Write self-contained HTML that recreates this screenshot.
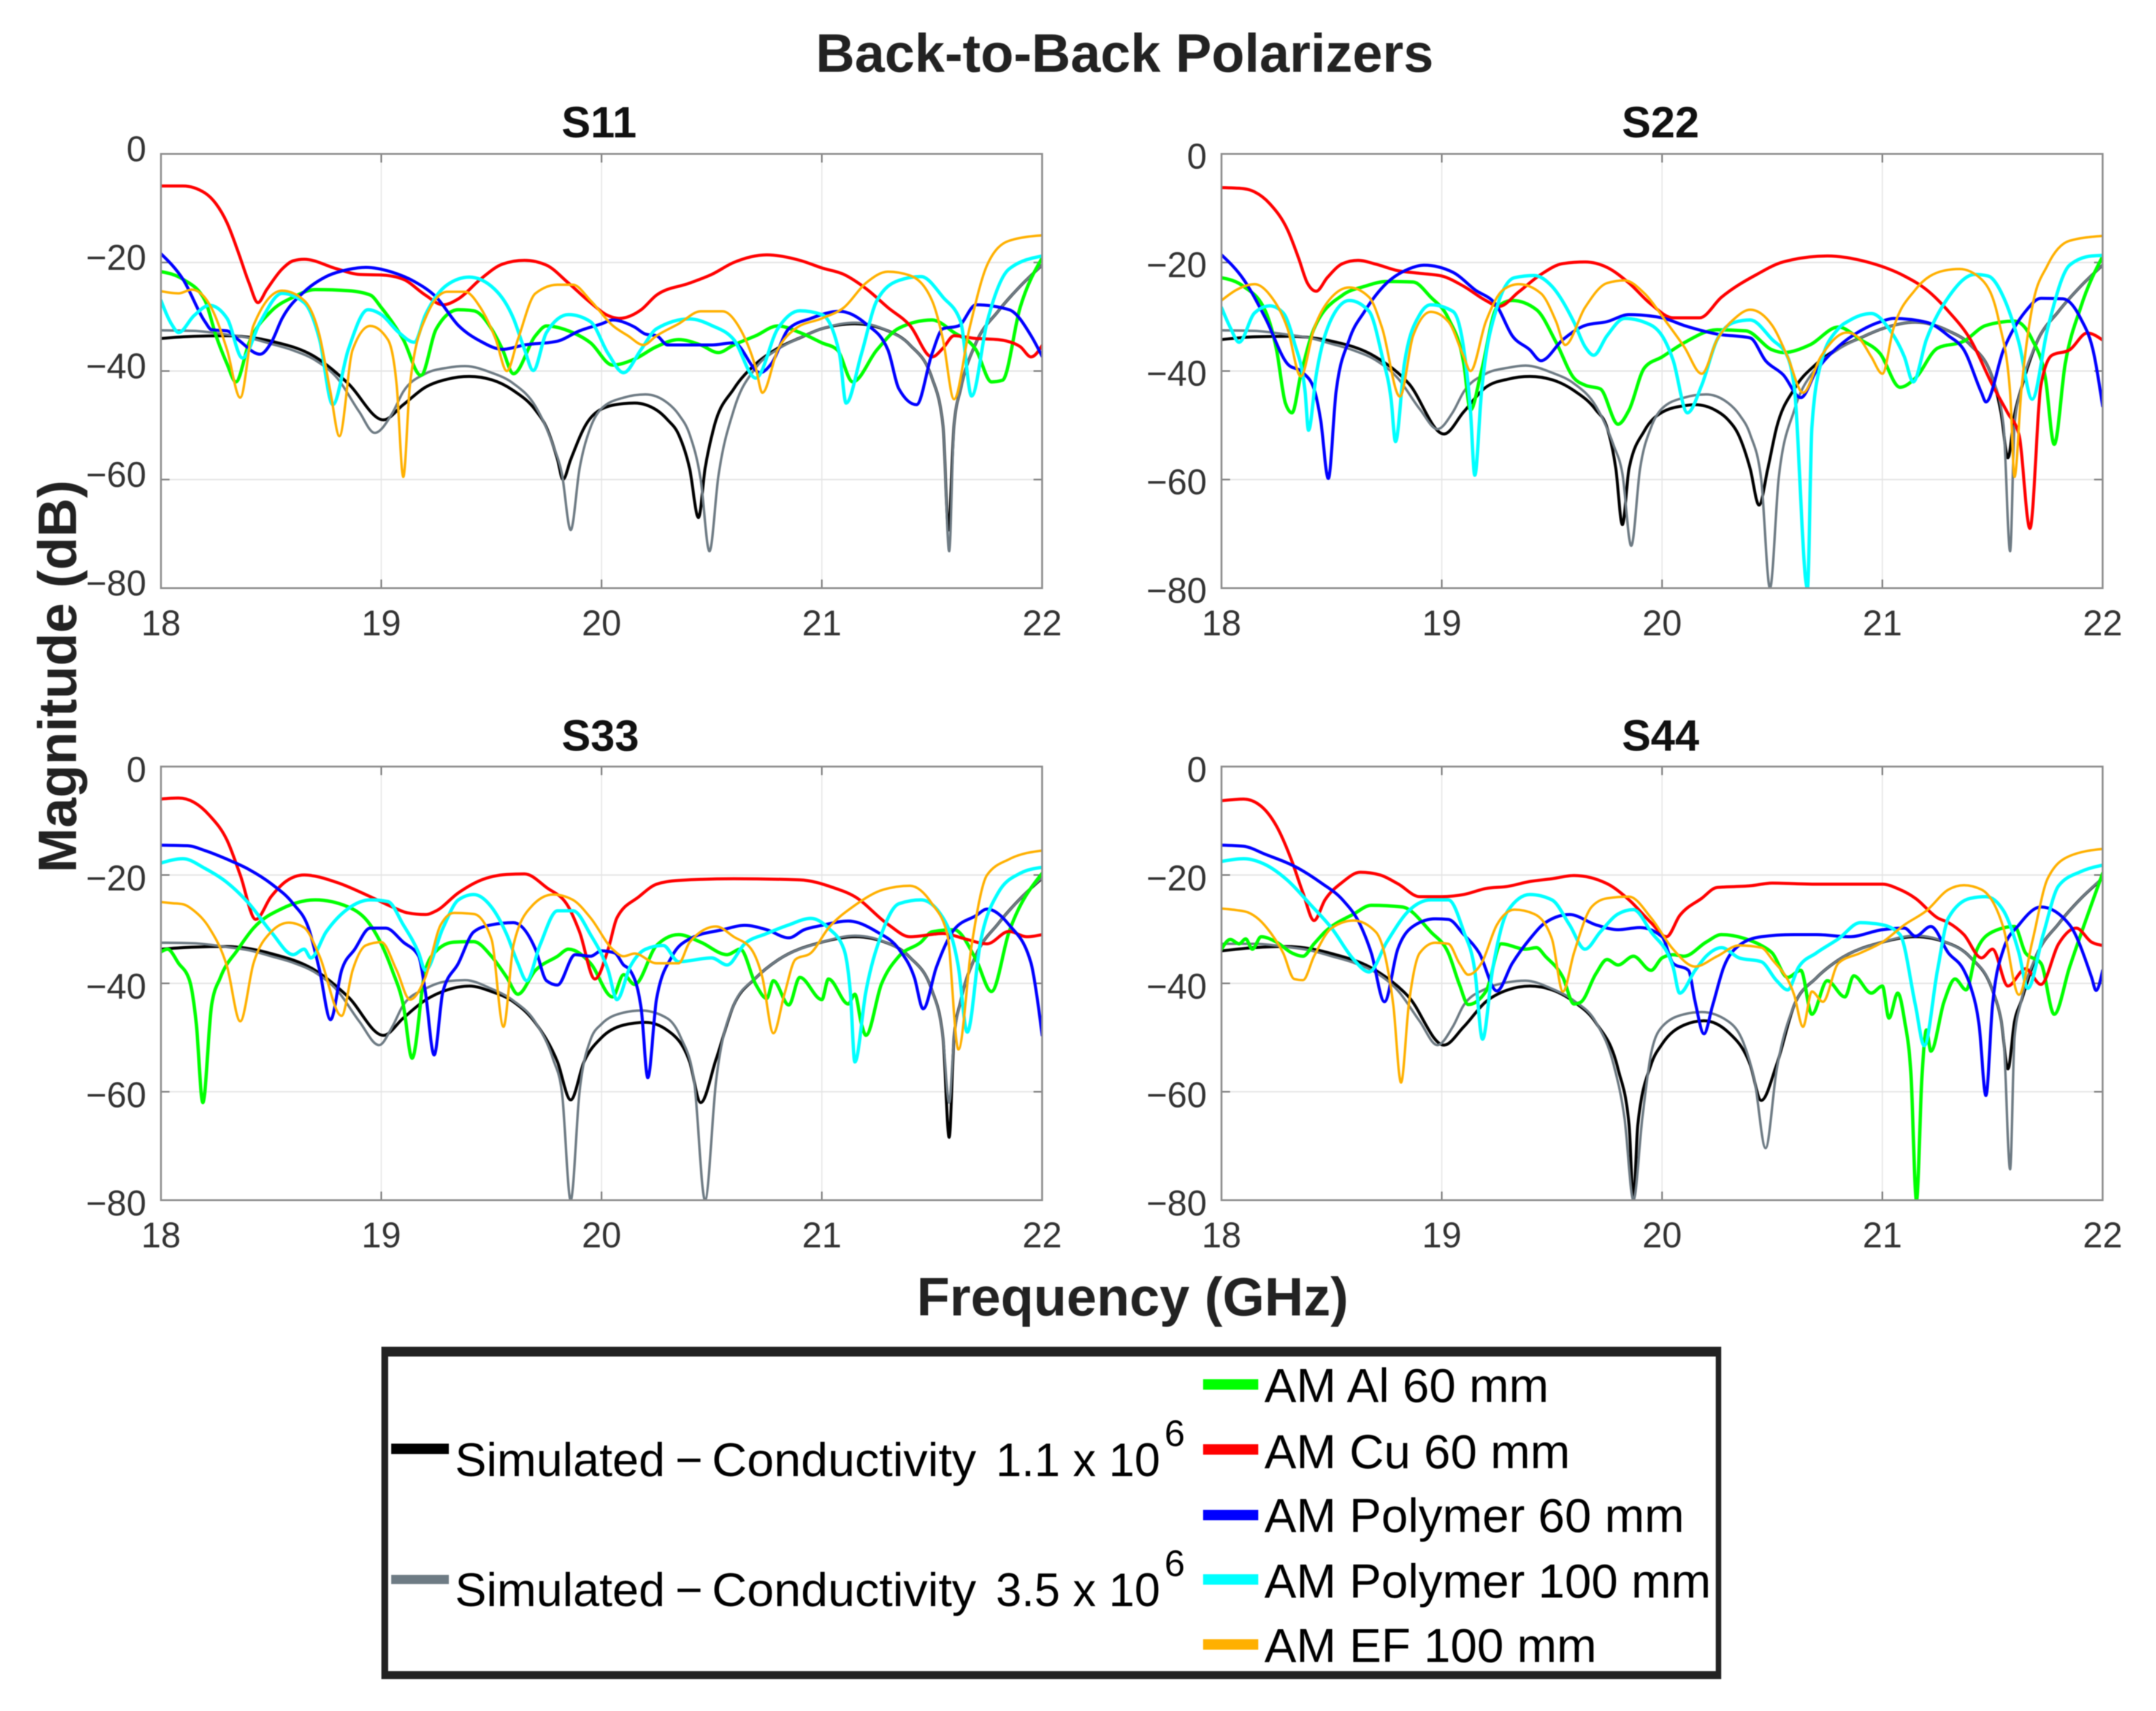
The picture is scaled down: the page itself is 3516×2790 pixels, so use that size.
<!DOCTYPE html>
<html lang="en">
<head>
<meta charset="utf-8">
<title>Back-to-Back Polarizers</title>
<style>
html,body{margin:0;padding:0;background:#fff}
svg{display:block;filter:blur(0.7px)}
text{font-family:"Liberation Sans",sans-serif}
</style>
</head>
<body>
<svg id="chart" xmlns="http://www.w3.org/2000/svg" width="3516" height="2790" viewBox="0 0 3516 2790">
<rect width="3516" height="2790" fill="#fff"/>
<text x="1834" y="117" font-size="88" font-weight="700" text-anchor="middle" fill="#222">Back-to-Back Polarizers</text>
<text transform="translate(124,1103) rotate(-90)" font-size="88" font-weight="700" text-anchor="middle" fill="#222">Magnitude (dB)</text>
<text x="1847" y="2145" font-size="88" font-weight="700" text-anchor="middle" fill="#222">Frequency (GHz)</text>
<g id="panels"></g>
<g>
<rect x="622" y="2196" width="2185" height="542" fill="#fff"/>
<rect x="622" y="2196" width="2185" height="16" fill="#222"/>
<rect x="622" y="2725" width="2185" height="13" fill="#222"/>
<rect x="622" y="2196" width="11" height="542" fill="#222"/>
<rect x="2798" y="2196" width="9" height="542" fill="#222"/>
<g>
<rect x="638" y="2354" width="94" height="17" fill="#000"/>
<text font-size="77" fill="#000" y="2407"><tspan x="742">Simulated</tspan><tspan x="1101">−</tspan></text>
<text font-size="77" fill="#000" x="1161" y="2407" textLength="431" lengthAdjust="spacingAndGlyphs">Conductivity</text>
<text font-size="77" fill="#000" x="1624" y="2407" textLength="268" lengthAdjust="spacingAndGlyphs">1.1 x 10</text>
<text font-size="60" fill="#000" x="1899" y="2358">6</text>
</g>
<g>
<rect x="638" y="2568" width="94" height="15" fill="#6e7b84"/>
<text font-size="77" fill="#000" y="2619"><tspan x="742">Simulated</tspan><tspan x="1101">−</tspan></text>
<text font-size="77" fill="#000" x="1161" y="2619" textLength="431" lengthAdjust="spacingAndGlyphs">Conductivity</text>
<text font-size="77" fill="#000" x="1624" y="2619" textLength="268" lengthAdjust="spacingAndGlyphs">3.5 x 10</text>
<text font-size="60" fill="#000" x="1899" y="2570">6</text>
</g>
<g>
<rect x="1962" y="2249" width="90" height="17" fill="#00ff00"/>
<text x="2062" y="2286" font-size="78" fill="#000">AM Al 60 mm</text>
</g>
<g>
<rect x="1962" y="2355" width="90" height="17" fill="#ff0000"/>
<text x="2062" y="2394" font-size="78" fill="#000">AM Cu 60 mm</text>
</g>
<g>
<rect x="1962" y="2462" width="90" height="17" fill="#0000ff"/>
<text x="2062" y="2498" font-size="78" fill="#000">AM Polymer 60 mm</text>
</g>
<g>
<rect x="1962" y="2567" width="90" height="17" fill="#00ffff"/>
<text x="2062" y="2605" font-size="78" fill="#000">AM Polymer 100 mm</text>
</g>
<g>
<rect x="1962" y="2673" width="90" height="17" fill="#ffb000"/>
<text x="2062" y="2710" font-size="78" fill="#000">AM EF 100 mm</text>
</g>
</g>
</svg>
<script>
// Axis tick values
const xTicks = [18, 19, 20, 21, 22];
const yTicks = [0, -20, -40, -60, -80];
const xDomain = [18, 22];
const yDomain = [0, -80];

// Every series is a flat list: frequency (GHz), magnitude (dB), frequency, magnitude, ...
// ---- S11 ----
const s11Sim11 = [18,-34,18.15,-33.6,18.3,-33.5,18.5,-34.5,18.7,-37.4,18.85,-42.3,19.01,-49,19.1,-46.2,19.2,-43,19.3,-41.5,19.4,-41,19.5,-41.6,19.6,-43.6,19.7,-47.2,19.75,-50.4,19.8,-56.3,19.825,-60,19.86,-56.3,19.93,-49.8,20,-47,20.1,-46,20.15,-45.9,20.25,-47.2,20.3,-49,20.35,-51.7,20.4,-58,20.44,-67,20.47,-58,20.51,-50.4,20.6,-43.3,20.7,-38.7,20.8,-35.8,20.9,-33.9,21,-32.2,21.15,-31.3,21.3,-32.6,21.4,-35.2,21.5,-41.3,21.55,-50,21.575,-69.3,21.6,-50,21.63,-43.3,21.7,-34.8,21.8,-29,21.9,-24.4,22,-20.5];
const s11Sim35 = [18,-32.5,18.15,-32.6,18.3,-33.3,18.4,-33.9,18.5,-35,18.6,-36.2,18.7,-38,18.8,-41.3,18.9,-47.5,18.97,-51.4,19.05,-47.8,19.1,-43.8,19.2,-40.5,19.3,-39.4,19.38,-39.1,19.5,-40.3,19.6,-42.3,19.7,-46.5,19.78,-53.7,19.82,-58.9,19.86,-69.3,19.9,-58,19.95,-50.4,20,-46.9,20.1,-44.9,20.2,-44.3,20.3,-45.9,20.35,-48,20.4,-51.7,20.45,-60,20.49,-73.2,20.53,-59.5,20.6,-47.2,20.7,-39.4,20.8,-36,20.9,-33.9,21,-32.2,21.15,-31.1,21.3,-32.6,21.4,-35.2,21.5,-41.3,21.55,-50,21.578,-73.2,21.6,-50,21.63,-43.3,21.7,-34.8,21.8,-29,21.9,-24.4,22,-20.5];
const s11Al = [18,-21.7,18.1,-23.1,18.2,-27,18.25,-33.5,18.3,-38.7,18.34,-42,18.4,-34.8,18.5,-29,18.6,-26.4,18.7,-25,18.85,-25.2,18.95,-26,19,-28.3,19.1,-34.2,19.18,-40.8,19.25,-32.2,19.35,-28.7,19.42,-28.9,19.5,-32.2,19.55,-36,19.6,-40.5,19.7,-33.5,19.75,-31.7,19.85,-32.6,19.95,-34.8,20.05,-38.9,20.15,-37.8,20.25,-35.5,20.35,-34.2,20.45,-35.2,20.53,-36.6,20.6,-35.2,20.7,-33.5,20.8,-31.7,20.9,-32.9,21,-34.8,21.07,-36.1,21.14,-42,21.25,-36.1,21.35,-32.1,21.5,-30.6,21.6,-32.9,21.7,-36.1,21.77,-42,21.82,-41.7,21.9,-28.3,22,-19.2];
const s11Cu = [18,-5.9,18.1,-5.9,18.2,-7.2,18.25,-9.2,18.3,-12.7,18.35,-18,18.4,-23.8,18.44,-27.4,18.48,-25,18.55,-21.2,18.6,-19.7,18.65,-19.4,18.8,-21.2,18.9,-22.2,19,-22.3,19.1,-23.1,19.2,-26,19.28,-27.8,19.35,-26.7,19.45,-23.1,19.55,-20.3,19.65,-19.6,19.75,-20.5,19.85,-23.8,19.95,-27.4,20.03,-29.8,20.08,-30.3,20.18,-28.7,20.25,-26,20.4,-23.8,20.5,-22.2,20.6,-20,20.75,-18.6,20.9,-19.6,21,-21,21.1,-22.2,21.2,-24.8,21.3,-28.3,21.4,-31.6,21.5,-37.4,21.55,-35.8,21.6,-33.5,21.7,-34,21.8,-34.2,21.9,-35.5,21.95,-37.4,22,-35.3];
const s11P60 = [18,-18.4,18.1,-23.1,18.2,-30.9,18.23,-32.4,18.3,-32.6,18.35,-34.2,18.45,-36.9,18.5,-34.8,18.55,-30.3,18.65,-25.4,18.75,-22.6,18.85,-21.3,18.93,-20.9,19.05,-21.8,19.15,-23.5,19.25,-26.4,19.35,-31.6,19.45,-34.5,19.55,-36,19.65,-35.2,19.8,-34.5,19.9,-32.6,20,-31.3,20.05,-30.6,20.15,-31.9,20.2,-33.2,20.25,-33.5,20.3,-35.2,20.5,-35.2,20.6,-34.8,20.72,-40.3,20.77,-38.7,20.85,-32.2,20.95,-30.3,21.08,-29,21.2,-31.3,21.3,-36.1,21.35,-43.3,21.43,-46.2,21.5,-36.8,21.55,-32.2,21.62,-31.7,21.7,-27.8,21.85,-28.7,21.95,-33.5,22,-37.3];
const s11P100 = [18,-27,18.05,-31.5,18.08,-32.9,18.15,-29.8,18.22,-27.9,18.3,-30.3,18.37,-37.6,18.45,-31,18.55,-25.7,18.65,-27.4,18.72,-34.2,18.78,-46.2,18.85,-36.1,18.94,-28.7,19,-29.6,19.08,-32.9,19.15,-34.7,19.2,-29.7,19.3,-24.1,19.4,-22.7,19.5,-24.4,19.6,-30.3,19.65,-36,19.69,-39.9,19.75,-32.9,19.85,-29.6,19.95,-30.9,20.03,-36.8,20.1,-40.3,20.18,-36,20.25,-32.2,20.4,-30.4,20.5,-31.6,20.6,-34.2,20.7,-41.3,20.8,-32.2,20.9,-28.9,21,-29.6,21.08,-36.8,21.11,-45.9,21.18,-36.8,21.25,-27,21.35,-23.3,21.45,-22.6,21.55,-26.4,21.63,-30.9,21.68,-44.6,21.75,-31,21.85,-21.2,22,-18.8];
const s11Ef = [18,-25.3,18.08,-25.7,18.14,-25,18.22,-27.7,18.3,-36.1,18.36,-44.9,18.42,-31.6,18.55,-25.2,18.65,-27,18.72,-33.5,18.77,-44,18.81,-52,18.87,-36.1,18.95,-31.7,19.03,-34.2,19.07,-42.6,19.1,-59.5,19.13,-42.6,19.2,-30.3,19.3,-25.4,19.38,-25.4,19.45,-28.3,19.52,-34.2,19.57,-40,19.62,-34.2,19.7,-25.7,19.8,-24.1,19.87,-24.1,19.95,-27,20.05,-31.6,20.12,-33.5,20.19,-35.2,20.25,-33.5,20.35,-31.3,20.45,-29,20.55,-29,20.62,-31.6,20.7,-39.4,20.73,-44,20.8,-36.1,20.88,-32.2,21,-30.3,21.1,-28.3,21.2,-23.8,21.3,-21.7,21.4,-22.4,21.5,-27,21.55,-34.2,21.6,-45.2,21.67,-32.2,21.75,-20.5,21.85,-16,22,-15];

// ---- S22 ----
const s22Sim11 = [18,-34.2,18.15,-33.7,18.3,-33.6,18.5,-34.5,18.7,-37.4,18.85,-42.3,19.01,-51.6,19.1,-47.5,19.2,-43,19.3,-41.5,19.4,-41,19.5,-41.6,19.6,-43.6,19.7,-47.2,19.75,-50.4,19.79,-58,19.82,-68.3,19.85,-58,19.92,-51,20,-47.6,20.1,-46.4,20.15,-46.2,20.25,-47.4,20.3,-49,20.35,-52,20.4,-58,20.44,-64.7,20.48,-58,20.52,-50.4,20.6,-43.3,20.7,-38.7,20.8,-35.8,20.9,-33.9,21,-32.2,21.15,-31,21.3,-32.6,21.4,-35.2,21.5,-41.3,21.54,-48,21.57,-56,21.6,-48,21.63,-43.3,21.7,-34.8,21.8,-29,21.9,-24.4,22,-20.5];
const s22Sim35 = [18,-32.5,18.15,-32.6,18.3,-33.3,18.4,-33.9,18.5,-35,18.6,-36.2,18.7,-38,18.8,-41.3,18.9,-47,18.98,-50.7,19.05,-47.6,19.1,-43.8,19.2,-40.5,19.3,-39.4,19.38,-39,19.5,-40.3,19.6,-42.3,19.7,-46.5,19.78,-53.7,19.82,-58.9,19.86,-72.2,19.9,-58,19.95,-50.4,20,-46.9,20.1,-44.9,20.2,-44.3,20.3,-45.9,20.35,-48,20.4,-51.7,20.45,-60,20.49,-80,20.53,-59.5,20.6,-47.2,20.7,-39.4,20.8,-36,20.9,-33.9,21,-32.2,21.15,-31,21.3,-32.6,21.4,-35.2,21.5,-41.3,21.55,-50,21.58,-73.2,21.6,-50,21.63,-43.3,21.7,-34.8,21.8,-29,21.9,-24.4,22,-20.5];
const s22Al = [18,-22.8,18.1,-24.4,18.2,-29,18.25,-36.1,18.29,-45.9,18.32,-47.7,18.36,-40.7,18.42,-32.2,18.55,-26,18.65,-24.4,18.75,-23.5,18.87,-23.6,18.95,-26.4,19.03,-30.3,19.1,-38.7,19.13,-47.2,19.18,-40,19.25,-28.3,19.32,-27,19.43,-28.7,19.52,-34.8,19.6,-41.3,19.65,-42.6,19.72,-43.3,19.8,-49.8,19.85,-47.2,19.92,-39.4,20,-37.4,20.1,-34.8,20.25,-32.4,20.38,-32.6,20.5,-36.1,20.55,-36.6,20.67,-35.2,20.8,-31.9,20.9,-34.2,20.99,-36.8,21.08,-43,21.15,-41.3,21.25,-35.8,21.37,-34.5,21.47,-31.6,21.6,-30.8,21.68,-34.2,21.74,-41.3,21.78,-53.5,21.83,-38.7,21.9,-28.3,22,-18.9];
const s22Cu = [18,-6.2,18.1,-6.4,18.15,-7,18.22,-9.2,18.3,-14,18.35,-19.2,18.39,-23.8,18.43,-25.3,18.48,-22.8,18.55,-20.2,18.62,-19.6,18.7,-20.3,18.8,-21.5,18.9,-22,19,-22.5,19.1,-24.4,19.2,-27,19.26,-28.1,19.35,-25.4,19.45,-22.2,19.55,-20.2,19.65,-19.9,19.75,-20.9,19.85,-23.8,19.95,-27.7,20.05,-30.2,20.17,-30.2,20.27,-26.4,20.43,-22.2,20.55,-19.9,20.75,-18.8,20.93,-19.9,21.1,-22.5,21.2,-25,21.3,-29,21.4,-34.2,21.5,-42.6,21.57,-47.8,21.62,-51.7,21.67,-69,21.72,-42.6,21.77,-37.1,21.85,-36.1,21.93,-33,22,-34.3];
const s22P60 = [18,-18.6,18.1,-23.1,18.2,-30.3,18.3,-38.7,18.37,-40.3,18.42,-43.3,18.45,-49,18.485,-59.8,18.52,-43.9,18.58,-34.2,18.65,-29,18.75,-23.8,18.85,-21.2,18.92,-20.5,19.05,-21.8,19.15,-25,19.25,-28,19.32,-33.5,19.4,-36.1,19.45,-38.1,19.55,-34.2,19.65,-31.6,19.75,-30.9,19.85,-29.6,20,-30.2,20.1,-31.6,20.25,-33.2,20.4,-33.9,20.47,-38.1,20.55,-40.7,20.63,-44.9,20.7,-40,20.8,-35.5,20.9,-32.6,21,-30.8,21.05,-30.3,21.2,-31,21.3,-33.5,21.37,-36.1,21.45,-44,21.47,-45.7,21.55,-36.1,21.65,-29,21.72,-26.6,21.82,-26.7,21.9,-30.3,21.96,-36.8,22,-46.5];
const s22P100 = [18,-28.3,18.04,-32,18.08,-34.7,18.15,-29.3,18.22,-28,18.28,-29.3,18.33,-34.7,18.38,-44,18.395,-50.9,18.43,-40.7,18.5,-30.3,18.58,-27,18.67,-29,18.73,-37.4,18.77,-45.2,18.79,-53,18.83,-38.7,18.9,-29.6,18.95,-27.8,19.05,-29,19.1,-36,19.13,-47.2,19.15,-59.2,19.18,-44,19.25,-28.3,19.33,-22.8,19.42,-22.4,19.5,-24.4,19.6,-31,19.65,-35.5,19.69,-37.1,19.75,-33.5,19.83,-30.3,19.92,-31,20,-33.5,20.05,-38,20.115,-47.7,20.18,-42.6,20.25,-34.2,20.33,-31,20.4,-30.6,20.5,-34.2,20.57,-37.4,20.6,-43,20.66,-80,20.68,-50.4,20.72,-38.7,20.8,-32.2,20.85,-30.7,20.95,-29.4,21.03,-32.2,21.1,-37.4,21.14,-42,21.2,-34.2,21.3,-26.4,21.42,-22.2,21.48,-22.5,21.55,-26.4,21.62,-34.8,21.68,-45.2,21.75,-32.2,21.85,-20.5,21.95,-18.8,22,-18.7];
const s22Ef = [18,-27,18.07,-25,18.15,-24,18.22,-26,18.3,-32.2,18.36,-41,18.42,-32.2,18.5,-26.4,18.58,-24.6,18.67,-26.4,18.73,-32.2,18.81,-44.7,18.87,-33.5,18.95,-29.1,19.03,-30.9,19.1,-37.4,19.13,-40,19.2,-30.9,19.28,-25,19.35,-24,19.45,-25.7,19.52,-31,19.56,-35.2,19.65,-28.3,19.75,-23.8,19.83,-23.3,19.92,-25.7,20.02,-31,20.1,-35.5,20.18,-40.5,20.25,-34.2,20.33,-30.3,20.4,-28.7,20.5,-31.6,20.57,-37.4,20.64,-44,20.72,-37.4,20.84,-32.9,20.9,-34.2,20.95,-37.4,21,-40.5,21.05,-32.2,21.15,-25,21.28,-21.5,21.35,-21.2,21.45,-23.1,21.53,-31,21.58,-44,21.6,-59.5,21.63,-44,21.68,-28.3,21.75,-20.5,21.85,-16,22,-15.1];

// ---- S33 ----
const s33Sim11 = [18,-33.7,18.15,-33.3,18.3,-33.2,18.5,-34.5,18.7,-37.6,18.85,-42.5,19.01,-49.6,19.1,-46.4,19.2,-43.1,19.3,-41.2,19.4,-40.5,19.5,-41.5,19.6,-43.4,19.7,-47.3,19.8,-54.5,19.86,-61.5,19.92,-54.5,20,-50,20.1,-47.7,20.2,-47.2,20.3,-48.7,20.4,-54.5,20.45,-62,20.52,-54,20.6,-44,20.7,-39,20.8,-35.7,21,-32.4,21.15,-31.4,21.3,-32.6,21.4,-35.2,21.5,-41.3,21.55,-50,21.578,-68.4,21.6,-50,21.63,-43.3,21.7,-34.8,21.8,-29,21.9,-24.4,22,-20.6];
const s33Sim35 = [18,-32.5,18.15,-32.6,18.3,-33.3,18.4,-33.9,18.5,-35,18.6,-36.2,18.7,-38,18.8,-41.3,18.9,-47,18.99,-51.4,19.05,-48,19.1,-44,19.2,-41,19.3,-39.6,19.38,-39.4,19.5,-41,19.6,-43.2,19.7,-47.2,19.78,-54,19.82,-60,19.86,-80,19.9,-60,19.95,-50.4,20,-47.5,20.1,-45.4,20.18,-45,20.3,-46.5,20.36,-50,20.42,-58,20.47,-80,20.52,-58,20.6,-44,20.7,-39,20.8,-35.7,21,-32.4,21.15,-31.2,21.3,-32.6,21.4,-35.2,21.5,-41.3,21.55,-50,21.578,-62,21.6,-50,21.63,-43.3,21.7,-34.8,21.8,-29,21.9,-24.4,22,-20.5];
const s33Al = [18,-34.2,18.03,-33.7,18.08,-36.3,18.13,-39.5,18.16,-47.3,18.19,-62,18.23,-44,18.27,-38.9,18.35,-33.7,18.42,-29.8,18.55,-26.2,18.7,-24.6,18.85,-25.9,18.95,-29.2,19.05,-37.6,19.1,-44,19.14,-53.8,19.2,-37.6,19.25,-34,19.33,-32.4,19.42,-32.3,19.5,-35,19.57,-38.9,19.62,-42,19.7,-37.6,19.8,-35,19.85,-33.7,19.95,-36.3,20.05,-42.5,20.1,-38.4,20.15,-40.2,20.25,-33,20.35,-31,20.45,-32.4,20.57,-34.7,20.63,-33.7,20.7,-40.2,20.75,-42.8,20.78,-39.5,20.85,-44,20.9,-38.9,21,-43,21.03,-39.2,21.12,-43.8,21.15,-42,21.18,-47.5,21.2,-49.6,21.27,-40.2,21.35,-35,21.45,-32.4,21.5,-30.5,21.6,-30.1,21.7,-35.6,21.77,-41.5,21.85,-30.5,22,-19.7];
const s33Cu = [18,-6,18.08,-5.8,18.15,-6.6,18.22,-9,18.3,-13.6,18.36,-20,18.43,-28.2,18.5,-24,18.57,-21.1,18.65,-20,18.8,-21.4,18.95,-24,19.05,-25.9,19.12,-27,19.2,-27.3,19.25,-26.6,19.35,-23.3,19.45,-21,19.57,-19.9,19.65,-19.8,19.75,-22.3,19.85,-25.9,19.9,-30.5,19.97,-39.2,20.03,-33.7,20.07,-27.9,20.17,-24,20.25,-21.7,20.35,-21,20.6,-20.7,20.9,-20.9,21.05,-22.3,21.15,-24,21.3,-29.1,21.4,-31.4,21.55,-30.8,21.65,-31.8,21.75,-32.7,21.85,-30.4,21.93,-31.4,22,-31];
const s33P60 = [18,-14.5,18.12,-14.6,18.2,-15.5,18.3,-17.1,18.4,-19,18.5,-21.6,18.6,-25.3,18.67,-29.8,18.72,-37.6,18.77,-46.7,18.82,-37.6,18.88,-33.7,18.95,-29.8,19.02,-29.8,19.1,-32.4,19.17,-35,19.2,-41.5,19.24,-53.2,19.28,-41.5,19.35,-36.3,19.42,-30.5,19.5,-29.2,19.6,-28.8,19.7,-33.7,19.75,-39.5,19.8,-40.3,19.88,-34.7,19.95,-35,20,-34,20.06,-34.4,20.1,-36.6,20.13,-37.6,20.18,-44.7,20.21,-57.4,20.25,-42.8,20.32,-35,20.4,-31.8,20.55,-30.1,20.65,-29.3,20.75,-30.1,20.85,-31.6,20.92,-30.1,21,-29.3,21.12,-28.5,21.25,-30.5,21.35,-33.7,21.42,-38.9,21.46,-44.7,21.52,-37,21.6,-30.1,21.7,-27.5,21.75,-26.3,21.85,-29.2,21.95,-36.3,21.98,-43.4,22,-49.6];
const s33P100 = [18,-17.8,18.1,-17,18.2,-18.8,18.3,-21.4,18.4,-25.3,18.5,-30.5,18.6,-34.7,18.65,-33.7,18.68,-35.3,18.75,-30.5,18.85,-26.2,18.95,-24.6,19.03,-24.9,19.1,-29.2,19.17,-34.4,19.2,-37.6,19.28,-29.8,19.35,-24.6,19.42,-23.6,19.5,-25.9,19.57,-31,19.62,-36.3,19.66,-39.5,19.72,-33,19.8,-26.6,19.87,-26.6,19.95,-31,20.03,-37.6,20.07,-43,20.13,-36.9,20.2,-33.7,20.28,-33,20.35,-36,20.5,-35.3,20.57,-36.6,20.65,-32.7,20.75,-30.8,20.85,-29.2,20.95,-28,21.03,-29.8,21.1,-33.7,21.13,-42,21.15,-54.5,21.2,-41.5,21.27,-31,21.35,-25.3,21.45,-24.6,21.55,-27.9,21.62,-37,21.66,-49,21.72,-32.4,21.8,-23.3,21.9,-19.7,22,-18.6];
const s33Ef = [18,-25,18.05,-25.2,18.1,-25.4,18.15,-26.6,18.22,-29.8,18.3,-36.9,18.36,-47,18.42,-36.3,18.5,-30.5,18.58,-28.8,18.65,-29.7,18.72,-35,18.82,-46,18.87,-37.6,18.93,-33,19,-32.4,19.07,-37.6,19.13,-43,19.2,-38.9,19.27,-29.2,19.33,-27,19.42,-27.2,19.5,-31.8,19.555,-48,19.6,-33,19.68,-25.9,19.78,-23.6,19.87,-24.6,19.95,-27.9,20.05,-33.7,20.1,-35,20.15,-34.5,20.25,-36.3,20.35,-36.3,20.4,-32.4,20.52,-29.5,20.6,-31.4,20.68,-33.7,20.73,-38.9,20.78,-49.2,20.83,-42,20.88,-35.6,20.95,-34.4,21.03,-29.8,21.15,-25.6,21.28,-22.7,21.4,-22,21.5,-25.3,21.57,-31,21.62,-52.2,21.68,-33,21.75,-20,21.85,-17.1,22,-15.5];

// ---- S44 ----
const s44Sim11 = [18,-34,18.15,-33.4,18.3,-33.2,18.5,-34.5,18.7,-37.6,18.85,-42.5,19.01,-51.4,19.1,-48,19.2,-43.4,19.3,-41.2,19.4,-40.5,19.5,-41.2,19.6,-43.4,19.7,-47.3,19.8,-55.8,19.85,-66,19.87,-80,19.89,-66,19.95,-55,20,-51.2,20.1,-47.7,20.19,-46.9,20.3,-49,20.4,-55,20.45,-61.6,20.52,-55,20.6,-44,20.7,-39,20.8,-35.7,21,-32.4,21.15,-31.4,21.3,-32.6,21.4,-35.2,21.5,-41.3,21.54,-47,21.57,-55.8,21.6,-47,21.63,-43.3,21.7,-34.8,21.8,-29,21.9,-24.4,22,-20.6];
const s44Sim35 = [18,-32.7,18.15,-32.7,18.3,-33.3,18.4,-33.9,18.5,-35,18.6,-36.2,18.7,-38,18.8,-41.3,18.9,-47,18.98,-51.4,19.05,-48,19.1,-44,19.2,-41,19.3,-39.8,19.38,-39.5,19.5,-41,19.6,-43.2,19.7,-47.2,19.78,-55,19.83,-65,19.87,-80,19.91,-65,19.95,-53,20,-48,20.1,-45.7,20.18,-45.3,20.3,-47,20.37,-51,20.42,-58,20.47,-70.4,20.52,-56,20.6,-44,20.7,-39,20.8,-35.7,21,-32.4,21.15,-31.2,21.3,-32.6,21.4,-35.2,21.5,-41.3,21.55,-50,21.58,-74.3,21.6,-50,21.63,-43.3,21.7,-34.8,21.8,-29,21.9,-24.4,22,-20.5];
const s44Al = [18,-33.7,18.04,-31.9,18.08,-32.7,18.11,-31.8,18.14,-33.7,18.18,-31.4,18.25,-32.4,18.32,-34.4,18.37,-35,18.42,-32.7,18.47,-30.5,18.6,-27.2,18.68,-25.6,18.82,-25.9,18.95,-30.5,19.03,-34.4,19.08,-40.2,19.12,-43.9,19.2,-41.5,19.27,-32.7,19.38,-33.7,19.43,-33.4,19.47,-35,19.55,-38.9,19.6,-43.8,19.63,-43.5,19.7,-38.2,19.75,-35.6,19.8,-36.6,19.87,-35,19.95,-37.6,20,-35.3,20.05,-34.7,20.1,-35,20.2,-32.4,20.27,-31,20.38,-31.8,20.45,-33,20.5,-34.4,20.57,-38.9,20.63,-37.6,20.68,-45.7,20.75,-39.5,20.83,-42.5,20.87,-38.6,20.95,-41.8,21,-40.5,21.03,-46.4,21.07,-41.8,21.1,-46.7,21.13,-57,21.155,-80,21.18,-57,21.2,-48.6,21.22,-52.5,21.28,-43.4,21.33,-39.2,21.38,-41.2,21.43,-33.7,21.5,-30.5,21.6,-29.5,21.65,-34.4,21.72,-36.3,21.78,-45.7,21.85,-37,22,-19.7];
const s44Cu = [18,-6.3,18.1,-6,18.17,-7,18.25,-11,18.32,-17.5,18.37,-23.3,18.42,-28.4,18.47,-24.6,18.55,-21.3,18.63,-19.5,18.72,-20,18.8,-21.6,18.9,-24,19,-24,19.1,-23.6,19.2,-22.5,19.3,-22.1,19.4,-21.2,19.5,-20.7,19.6,-20.1,19.75,-21.6,19.85,-24.6,19.95,-28.8,20.02,-31.4,20.08,-27.5,20.18,-24.3,20.25,-22.3,20.4,-22,20.5,-21.5,20.7,-21.7,21,-21.7,21.08,-22.7,21.15,-24.3,21.25,-27.9,21.3,-28.8,21.37,-31,21.45,-35.3,21.5,-33.7,21.57,-40.5,21.65,-37.3,21.72,-40.2,21.8,-32.7,21.88,-29.8,21.95,-32.4,22,-33];
const s44P60 = [18,-14.5,18.1,-14.7,18.2,-16.2,18.35,-18.8,18.45,-21.4,18.55,-24.6,18.63,-29.2,18.68,-34.4,18.74,-43.4,18.8,-33.7,18.88,-29.2,18.97,-28.1,19.03,-28.2,19.1,-31,19.17,-34.4,19.25,-41.4,19.32,-36.3,19.4,-31.8,19.47,-28.8,19.58,-27.3,19.7,-29.2,19.8,-30.1,19.9,-29.7,20,-31.4,20.05,-36.3,20.12,-37.6,20.15,-43.4,20.19,-49.3,20.23,-44,20.28,-37,20.35,-33,20.45,-31.4,20.6,-31,20.7,-31,20.85,-31.4,21,-30.1,21.1,-29.8,21.15,-31.3,21.22,-29.5,21.3,-34.4,21.37,-37.6,21.4,-40.5,21.44,-48,21.47,-60.7,21.5,-44,21.55,-33.7,21.62,-29.2,21.72,-25.9,21.85,-29.2,21.95,-38.9,21.97,-41.3,22,-37.6];
const s44P100 = [18,-17.5,18.1,-17,18.2,-18.1,18.3,-21,18.4,-25.3,18.5,-29.8,18.6,-35.6,18.67,-37.9,18.75,-32.4,18.85,-26.6,18.95,-24.6,19.03,-24.6,19.1,-30.5,19.15,-37.6,19.185,-50.3,19.23,-37.6,19.3,-26.6,19.4,-23.6,19.5,-24.6,19.58,-29.2,19.65,-33.7,19.72,-30.5,19.8,-27.2,19.87,-26.4,19.95,-30.5,20.05,-37,20.08,-41.8,20.15,-37.6,20.2,-35,20.27,-33.4,20.35,-35.3,20.45,-36,20.52,-39.5,20.57,-41.2,20.62,-37,20.7,-34.4,20.8,-31.8,20.9,-28.8,21,-29.2,21.08,-31,21.15,-44,21.19,-51.5,21.25,-37.6,21.3,-27.9,21.4,-24.3,21.47,-24,21.55,-26.6,21.62,-34.4,21.66,-40.9,21.73,-31,21.8,-22,21.9,-19.4,22,-18.2];
const s44Ef = [18,-26.2,18.07,-26.5,18.12,-26.9,18.17,-28.2,18.22,-30.5,18.28,-34.4,18.33,-39.2,18.37,-39.4,18.42,-35,18.5,-29.8,18.6,-28.4,18.7,-30.5,18.75,-36.3,18.78,-44,18.815,-58.3,18.85,-44,18.9,-34.4,18.97,-32.5,19.03,-32.7,19.08,-36.3,19.12,-38.4,19.18,-36.3,19.25,-29.2,19.33,-26.4,19.42,-27.2,19.5,-31.8,19.55,-41.5,19.6,-34.4,19.68,-25.9,19.75,-24.3,19.85,-24,19.95,-27.9,20.05,-33.7,20.15,-36.9,20.25,-35,20.35,-33,20.45,-33.4,20.5,-35.6,20.6,-42.2,20.64,-48,20.68,-41.5,20.73,-43.4,20.8,-36.3,20.9,-34.4,21,-32.4,21.1,-29.2,21.2,-26.6,21.3,-22.7,21.37,-21.9,21.45,-22.7,21.55,-29.8,21.62,-42.1,21.68,-32.4,21.75,-20.7,21.85,-16.5,22,-15.2];

// Series styles, in drawing order
const seriesStyles = [
  {key:'sim-1-1', color:'#000000', width:4.8},
  {key:'sim-3-5', color:'#6e7b84', width:4},
  {key:'al', color:'#00ff00', width:5.5},
  {key:'cu', color:'#ff0000', width:5},
  {key:'polymer-60', color:'#0000ff', width:5},
  {key:'polymer-100', color:'#00ffff', width:5.5},
  {key:'ef-100', color:'#ffb000', width:4}
];
const panelData = {
  S11:[s11Sim11,s11Sim35,s11Al,s11Cu,s11P60,s11P100,s11Ef],
  S22:[s22Sim11,s22Sim35,s22Al,s22Cu,s22P60,s22P100,s22Ef],
  S33:[s33Sim11,s33Sim35,s33Al,s33Cu,s33P60,s33P100,s33Ef],
  S44:[s44Sim11,s44Sim35,s44Al,s44Cu,s44P60,s44P100,s44Ef]
};
// Layout only
const panelLayouts = [
  {id:'S11', left:262.5, top:251, width:1437, height:708, titleX:977, titleY:224, yLabelDy:-8},
  {id:'S22', left:1992, top:251, width:1437, height:708, titleX:2708, titleY:224, yLabelDy:4},
  {id:'S33', left:262.5, top:1250, width:1437, height:707, titleX:979, titleY:1224, yLabelDy:5},
  {id:'S44', left:1992, top:1250, width:1437, height:707, titleX:2708, titleY:1224, yLabelDy:5}
];

const NS = 'http://www.w3.org/2000/svg';
function make(parent, tag, attrs, text){
  const el = document.createElementNS(NS, tag);
  for(const k in attrs){ el.setAttribute(k, attrs[k]); }
  if(text !== undefined){ el.textContent = text; }
  parent.appendChild(el);
  return el;
}
function toPoints(flat, sx, sy){
  const pts = [];
  for(let i = 0; i + 1 < flat.length; i += 2){
    pts.push([sx(flat[i]), sy(flat[i + 1])]);
  }
  pts.sort((a, b) => a[0] - b[0]);
  return pts.filter((p, i) => i === 0 || p[0] > pts[i - 1][0]);
}
function sign(v){ return v < 0 ? -1 : 1; }
// Monotone cubic path through the points, so narrow dips keep their depth
function monotonePath(pts){
  const n = pts.length;
  const t = new Array(n).fill(0);
  for(let i = 1; i < n - 1; i++){
    const h0 = pts[i][0] - pts[i - 1][0], h1 = pts[i + 1][0] - pts[i][0];
    const s0 = (pts[i][1] - pts[i - 1][1]) / h0, s1 = (pts[i + 1][1] - pts[i][1]) / h1;
    const p = (s0 * h1 + s1 * h0) / (h0 + h1);
    t[i] = (sign(s0) + sign(s1)) * Math.min(Math.abs(s0), Math.abs(s1), 0.5 * Math.abs(p)) || 0;
  }
  t[0] = (3 * (pts[1][1] - pts[0][1]) / (pts[1][0] - pts[0][0]) - t[1]) / 2;
  t[n - 1] = (3 * (pts[n - 1][1] - pts[n - 2][1]) / (pts[n - 1][0] - pts[n - 2][0]) - t[n - 2]) / 2;
  let d = 'M' + pts[0][0].toFixed(1) + ' ' + pts[0][1].toFixed(1);
  for(let i = 1; i < n; i++){
    const dx = (pts[i][0] - pts[i - 1][0]) / 3;
    d += 'C' + (pts[i - 1][0] + dx).toFixed(1) + ' ' + (pts[i - 1][1] + dx * t[i - 1]).toFixed(1) + ' ' +
         (pts[i][0] - dx).toFixed(1) + ' ' + (pts[i][1] - dx * t[i]).toFixed(1) + ' ' +
         pts[i][0].toFixed(1) + ' ' + pts[i][1].toFixed(1);
  }
  return d;
}

const root = document.getElementById('panels');
panelLayouts.forEach(function(layout){
  const id = layout.id.toLowerCase();
  const sx = v => layout.left + (v - xDomain[0]) / (xDomain[1] - xDomain[0]) * layout.width;
  const sy = v => layout.top + (v - yDomain[0]) / (yDomain[1] - yDomain[0]) * layout.height;
  const right = layout.left + layout.width, bottom = layout.top + layout.height;

  const g = make(root, 'g', {});
  
  

  const title = make(g, 'text', {x:layout.titleX, y:layout.titleY, 'font-size':71, 'font-weight':700, 'text-anchor':'middle', fill:'#111'}, layout.id);
  
  

  const clipId = 'clip-' + id;
  const defs = make(g, 'defs', {});
  const clip = make(defs, 'clipPath', {id:clipId});
  make(clip, 'rect', {x:layout.left, y:layout.top, width:layout.width, height:layout.height});

  xTicks.forEach(function(v){
    const x = sx(v);
    if(v !== xDomain[0] && v !== xDomain[1]){
      const gl = make(g, 'line', {x1:x, x2:x, y1:layout.top, y2:bottom, stroke:'#e4e4e4', 'stroke-width':1.8});
      
      
    }
    const tb = make(g, 'line', {x1:x, x2:x, y1:bottom, y2:bottom - 14, stroke:'#777', 'stroke-width':2.5});
    
    
    const tt = make(g, 'line', {x1:x, x2:x, y1:layout.top, y2:layout.top + 14, stroke:'#777', 'stroke-width':2.5});
    
    
    const lab = make(g, 'text', {x:x, y:bottom + 77, 'font-size':58, 'text-anchor':'middle', fill:'#333'}, String(v));
    
    
  });
  yTicks.forEach(function(v){
    const y = sy(v);
    if(v !== yDomain[0] && v !== yDomain[1]){
      const gl = make(g, 'line', {x1:layout.left, x2:right, y1:y, y2:y, stroke:'#e4e4e4', 'stroke-width':2.2});
      
      
    }
    const tl = make(g, 'line', {x1:layout.left, x2:layout.left + 14, y1:y, y2:y, stroke:'#777', 'stroke-width':2.5});
    
    
    const tr = make(g, 'line', {x1:right, x2:right - 14, y1:y, y2:y, stroke:'#777', 'stroke-width':2.5});
    
    
    const lab = make(g, 'text', {x:layout.left - 24, y:y + 20 + layout.yLabelDy, 'font-size':58, 'text-anchor':'end', fill:'#333'}, (v < 0 ? '\u2212' : '') + Math.abs(v));
    
    
  });

  const lines = make(g, 'g', {'clip-path':'url(#' + clipId + ')', fill:'none', 'stroke-linejoin':'round', 'stroke-linecap':'round'});
  
  
  panelData[layout.id].forEach(function(series, i){
    const style = seriesStyles[i];
    const path = make(lines, 'path', {d:monotonePath(toPoints(series, sx, sy)), stroke:style.color, 'stroke-width':style.width});
    
    
  });

  const frame = make(g, 'rect', {x:layout.left, y:layout.top, width:layout.width, height:layout.height, fill:'none', stroke:'#8c8c8c', 'stroke-width':3});
  
  
});
</script>
</body>
</html>
